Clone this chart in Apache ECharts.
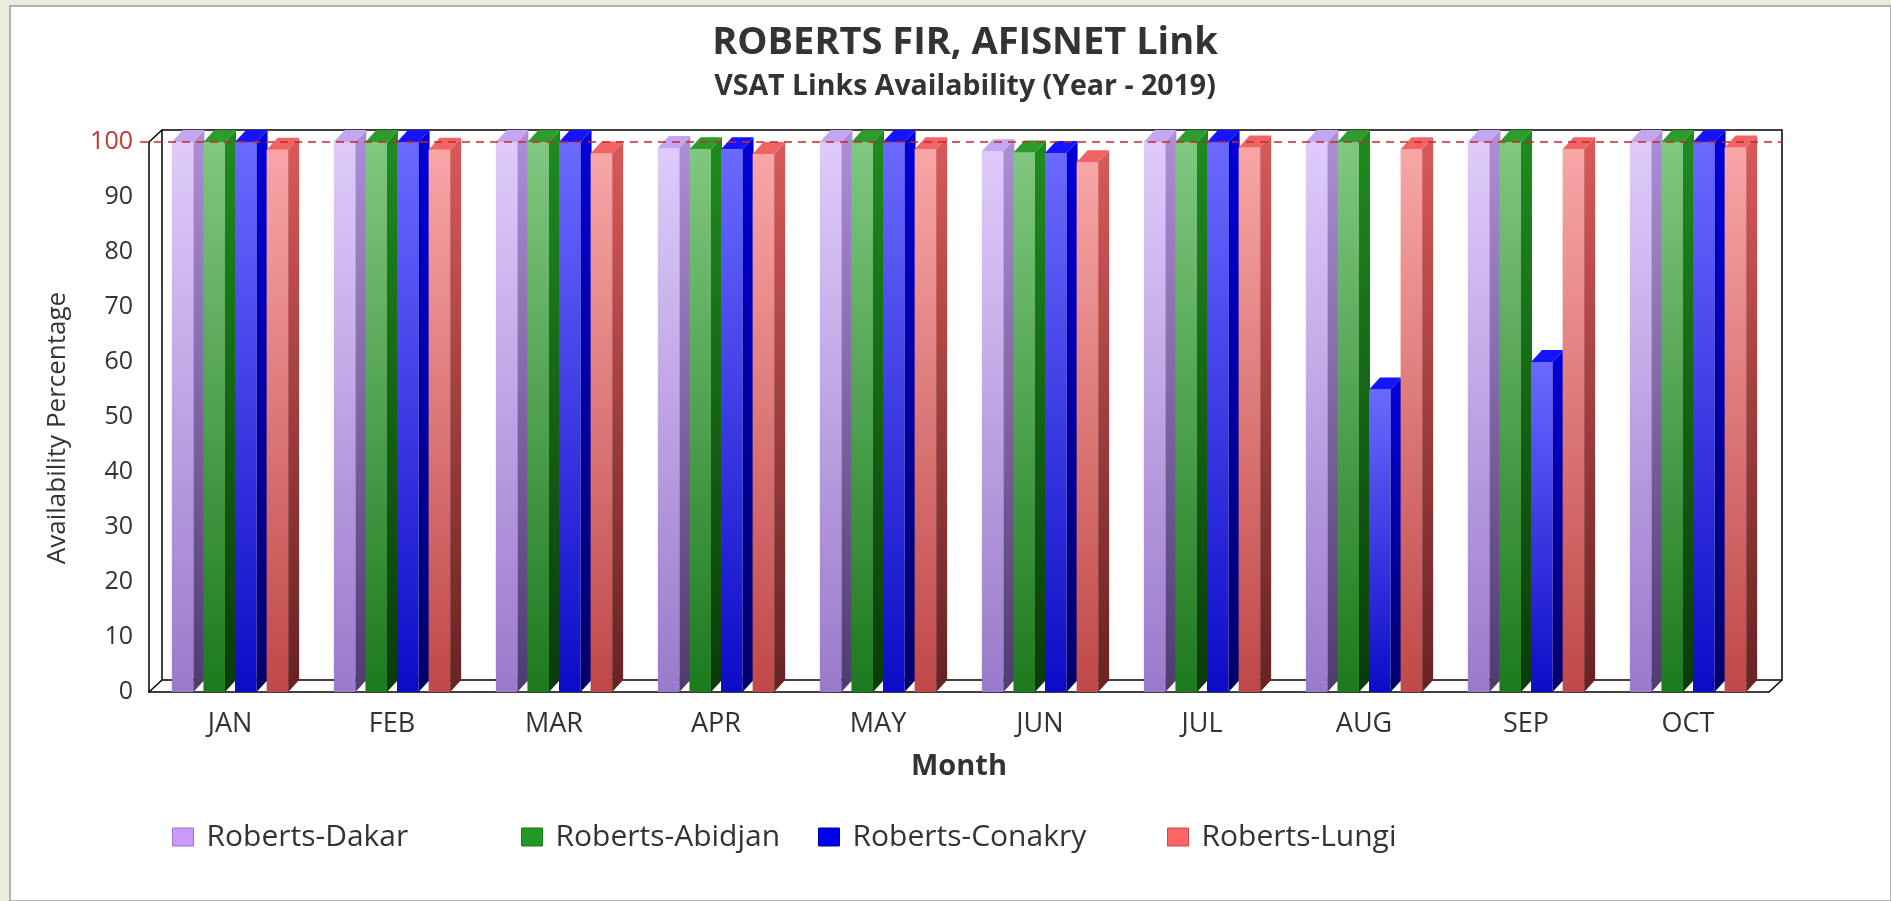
<!DOCTYPE html>
<html>
<head>
<meta charset="utf-8">
<script src="https://cdn.jsdelivr.net/npm/echarts@6/dist/echarts.min.js"></script>
<style>
  html, body { margin: 0; padding: 0; background: #e9eddb; }
  #main { position: absolute; left: 0; top: 0; width: 1891px; height: 901px; }
</style>
</head>
<body>
<div id="main"></div>
<script>
// chart data
var months = ['JAN', 'FEB', 'MAR', 'APR', 'MAY', 'JUN', 'JUL', 'AUG', 'SEP', 'OCT']
var linkNames = ['Roberts-Dakar', 'Roberts-Abidjan', 'Roberts-Conakry', 'Roberts-Lungi']
var dakar = [100, 100, 100, 98.9, 100, 98.3, 100, 100, 100, 100]
var abidjan = [100, 100, 100, 98.7, 100, 98.1, 100, 100, 100, 100]
var conakry = [100, 100, 100, 98.7, 100, 98.0, 100, 55, 60, 100]
var lungi = [98.6, 98.6, 97.9, 97.8, 98.7, 96.3, 99.0, 98.7, 98.7, 99.0]
var yTicks = [0, 10, 20, 30, 40, 50, 60, 70, 80, 90, 100]
var targetLine = 100

// colours: front top/bottom, side top/bottom, top face, legend
var palette = [
  { ft: '#dfcbfb', fb: '#9a7acb', st: '#ad8fd6', sb: '#4f3b6e', top: '#c3a5f2', legend: '#cc99ff', border: '#9a73c8' },
  { ft: '#80c880', fb: '#1d7a1d', st: '#1f8c1f', sb: '#0a3a0a', top: '#2c9c2c', legend: '#229922', border: '#1a7a1a' },
  { ft: '#6a6aff', fb: '#0c0cc8', st: '#0000d8', sb: '#00006a', top: '#1414ff', legend: '#0000f0', border: '#0000b0' },
  { ft: '#f8a6a6', fb: '#c04848', st: '#d85a5a', sb: '#662222', top: '#f26464', legend: '#ff6666', border: '#c84848' }
]
var seriesData = [dakar, abidjan, conakry, lungi]

var DX = 11, DY = 12 // bar depth
var WX = 13, WY = 12 // wall depth
var FONT = 'Open Sans'

function grad (a, b) {
  return { type: 'linear', x: 0, y: 0, x2: 0, y2: 1, colorStops: [{ offset: 0, color: a }, { offset: 1, color: b }] }
}

function barRenderer (s) {
  return function (params, api) {
    var idx = api.value(0)
    var top = api.coord([idx, api.value(1)])
    var base = api.coord([idx, 0])
    var band = api.size([1, 0])[0]
    var bw = band * 0.133
    var pitch = band * 0.195
    var total = 4 * bw + 3 * (pitch - bw)
    var x = top[0] - total / 2 + s * pitch
    var y = top[1]
    var yb = base[1]
    var c = palette[s]
    return {
      type: 'group',
      children: [
        { type: 'rect', shape: { x: x, y: y, width: bw, height: yb - y }, style: { fill: grad(c.ft, c.fb) } },
        { type: 'polygon', shape: { points: [[x + bw, y], [x + bw + DX, y - DY], [x + bw + DX, yb - DY], [x + bw, yb]] }, style: { fill: grad(c.st, c.sb) } },
        { type: 'polygon', shape: { points: [[x, y], [x + DX, y - DY], [x + bw + DX, y - DY], [x + bw, y]] }, style: { fill: c.top } }
      ]
    }
  }
}

function wallRenderer (params, api) {
  var cs = params.coordSys
  var x0 = cs.x, x1 = cs.x + cs.width
  var yTop = api.coord([0, 100])[1]
  var y0 = api.coord([0, 0])[1]
  var line = { stroke: '#000', lineWidth: 1.5, fill: null }
  return {
    type: 'group',
    children: [
      { type: 'polygon', shape: { points: [[x0 + WX, yTop - WY], [x1 + WX, yTop - WY], [x1 + WX, y0 - WY], [x0 + WX, y0 - WY]] }, style: line },
      { type: 'line', shape: { x1: x0, y1: yTop, x2: x0 + WX, y2: yTop - WY }, style: line },
      { type: 'line', shape: { x1: x0, y1: y0, x2: x0 + WX, y2: y0 - WY }, style: line },
      { type: 'line', shape: { x1: x1, y1: y0, x2: x1 + WX, y2: y0 - WY }, style: line }
    ]
  }
}

function refLineRenderer (params, api) {
  var cs = params.coordSys
  var y = api.coord([0, api.value(1)])[1]
  return {
    type: 'line',
    shape: { x1: cs.x - 9, y1: y, x2: cs.x + cs.width + WX, y2: y },
    style: { stroke: '#c62828', lineWidth: 1.5, lineDash: [8, 6] }
  }
}

var series = [
  { name: 'wall', type: 'custom', renderItem: wallRenderer, data: [[0, 0]], z: 1, silent: true }
]
linkNames.forEach(function (name, s) {
  series.push({
    name: name,
    type: 'custom',
    renderItem: barRenderer(s),
    itemStyle: { color: palette[s].legend },
    encode: { x: 0, y: 1 },
    data: seriesData[s].map(function (v, i) { return [i, v] }),
    z: 2
  })
})
series.push({ name: 'target', type: 'custom', renderItem: refLineRenderer, data: [[0, targetLine]], z: 5, silent: true })

var legendLeft = [167, 516, 813, 1162]
var legends = linkNames.map(function (name, s) {
  return {
    left: legendLeft[s],
    top: 817,
    itemWidth: 21,
    itemHeight: 18,
    icon: 'rect',
    data: [{ name: name, itemStyle: { color: palette[s].legend, borderColor: palette[s].border, borderWidth: 1 } }],
    textStyle: { fontFamily: FONT, fontSize: 30, color: '#333', padding: [0, 0, 0, 8] }
  }
})

var chart = echarts.init(document.getElementById('main'))
chart.setOption({
  backgroundColor: 'transparent',
  animation: false,
  graphic: [
    { type: 'rect', z: -10, shape: { x: 10, y: 6, width: 1881, height: 895 }, style: { fill: '#fff', stroke: '#9c9c9c', lineWidth: 1.5 } }
  ],
  title: [
    { text: 'ROBERTS FIR, AFISNET Link', left: 960, top: 19, textAlign: 'center', textStyle: { fontFamily: FONT, fontWeight: 'bold', fontSize: 38, color: '#333' } },
    { text: 'VSAT Links Availability (Year - 2019)', left: 960, top: 67, textAlign: 'center', textStyle: { fontFamily: FONT, fontWeight: 'bold', fontSize: 28.5, color: '#333' } }
  ],
  legend: legends,
  grid: { left: 149, right: 122, top: 142, bottom: 209 },
  xAxis: {
    type: 'category',
    data: months,
    name: 'Month',
    nameLocation: 'middle',
    nameGap: 60,
    nameTextStyle: { fontFamily: FONT, fontWeight: 'bold', fontSize: 29, color: '#333' },
    axisLine: { lineStyle: { color: '#000', width: 1.5 } },
    axisTick: { show: false },
    axisLabel: { margin: 19, fontFamily: FONT, fontSize: 27, color: '#333' }
  },
  yAxis: {
    type: 'value',
    min: yTicks[0],
    max: yTicks[yTicks.length - 1],
    interval: 10,
    name: 'Availability Percentage',
    nameLocation: 'middle',
    nameGap: 78,
    nameTextStyle: { fontFamily: FONT, fontSize: 26, color: '#333', padding: [0, 22, 0, 0] },
    axisLine: { show: true, lineStyle: { color: '#000', width: 1.5 } },
    axisTick: { show: false },
    splitLine: { show: false },
    axisLabel: {
      margin: 16,
      fontFamily: FONT,
      fontSize: 25,
      color: '#333',
      formatter: function (v) { return v === targetLine ? '{r|' + v + '}' : String(v) },
      rich: { r: { color: '#c0392b', fontFamily: FONT, fontSize: 25 } }
    }
  },
  series: series
})
</script>
</body>
</html>
